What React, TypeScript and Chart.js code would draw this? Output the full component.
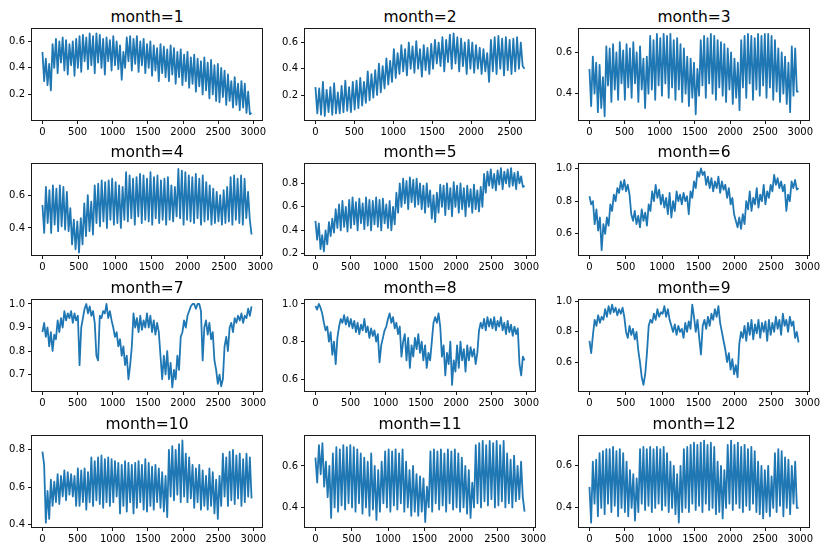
import React, { useEffect, useRef } from "react";
import { Chart, registerables } from "chart.js";

Chart.register(...registerables);

// ---- data (alternating lows / highs) ----
const month1 = [
  0.52, 0.30, 0.47, 0.27, 0.43, 0.23, 0.58, 0.40, 0.62, 0.36, 0.60, 0.44, 0.63, 0.38, 0.61, 0.35, 0.58, 0.42, 0.60, 0.34, 0.62,
  0.40, 0.64, 0.37, 0.65, 0.45, 0.63, 0.39, 0.66, 0.42, 0.64, 0.36, 0.66, 0.44, 0.65, 0.40, 0.62, 0.35, 0.63, 0.45, 0.61, 0.38,
  0.64, 0.42, 0.60, 0.39, 0.57, 0.31, 0.52, 0.40, 0.63, 0.45, 0.64, 0.38, 0.62, 0.43, 0.64, 0.37, 0.60, 0.42, 0.62, 0.36, 0.58,
  0.40, 0.60, 0.34, 0.57, 0.38, 0.55, 0.30, 0.58, 0.36, 0.56, 0.33, 0.54, 0.30, 0.57, 0.35, 0.55, 0.28, 0.52, 0.33, 0.54, 0.27,
  0.50, 0.30, 0.52, 0.25, 0.48, 0.28, 0.50, 0.22, 0.47, 0.26, 0.45, 0.20, 0.48, 0.23, 0.44, 0.17, 0.46, 0.20, 0.42, 0.15, 0.43,
  0.14, 0.40, 0.18, 0.38, 0.12, 0.35, 0.15, 0.30, 0.10, 0.33, 0.12, 0.28, 0.08, 0.30, 0.10, 0.28, 0.06, 0.22, 0.05, 0.06,
];
const month2 = [
  0.26, 0.06, 0.25, 0.05, 0.30, 0.04, 0.24, 0.07, 0.26, 0.05, 0.29, 0.06, 0.22, 0.06, 0.27, 0.07, 0.31, 0.08, 0.26, 0.07, 0.30,
  0.09, 0.31, 0.10, 0.33, 0.12, 0.30, 0.14, 0.38, 0.16, 0.36, 0.18, 0.39, 0.20, 0.44, 0.22, 0.42, 0.25, 0.48, 0.28, 0.46, 0.30,
  0.55, 0.33, 0.52, 0.36, 0.58, 0.38, 0.55, 0.35, 0.60, 0.40, 0.57, 0.37, 0.61, 0.40, 0.55, 0.34, 0.58, 0.39, 0.56, 0.36, 0.59,
  0.40, 0.62, 0.44, 0.60, 0.42, 0.64, 0.38, 0.62, 0.45, 0.66, 0.40, 0.67, 0.44, 0.64, 0.38, 0.63, 0.42, 0.60, 0.36, 0.62, 0.40,
  0.60, 0.37, 0.58, 0.40, 0.56, 0.36, 0.55, 0.38, 0.52, 0.30, 0.62, 0.38, 0.64, 0.36, 0.65, 0.40, 0.63, 0.35, 0.64, 0.39, 0.62,
  0.36, 0.63, 0.38, 0.64, 0.40, 0.60, 0.42, 0.40,
];
const month3 = [
  0.52, 0.34, 0.58, 0.40, 0.55, 0.31, 0.54, 0.33, 0.48, 0.29, 0.63, 0.44, 0.62, 0.36, 0.64, 0.42, 0.60, 0.37, 0.65, 0.45, 0.61,
  0.37, 0.64, 0.43, 0.62, 0.38, 0.65, 0.45, 0.60, 0.36, 0.63, 0.42, 0.57, 0.33, 0.58, 0.40, 0.68, 0.42, 0.66, 0.37, 0.69, 0.44,
  0.67, 0.39, 0.69, 0.45, 0.68, 0.38, 0.69, 0.43, 0.66, 0.37, 0.67, 0.42, 0.64, 0.36, 0.62, 0.40, 0.58, 0.34, 0.57, 0.38, 0.55,
  0.30, 0.52, 0.39, 0.66, 0.44, 0.68, 0.38, 0.67, 0.45, 0.69, 0.40, 0.68, 0.37, 0.66, 0.43, 0.65, 0.39, 0.64, 0.36, 0.62, 0.42,
  0.60, 0.35, 0.57, 0.38, 0.55, 0.32, 0.66, 0.43, 0.68, 0.38, 0.69, 0.45, 0.68, 0.37, 0.67, 0.42, 0.69, 0.39, 0.68, 0.44, 0.69,
  0.38, 0.69, 0.43, 0.68, 0.37, 0.66, 0.41, 0.62, 0.36, 0.60, 0.40, 0.58, 0.35, 0.55, 0.31, 0.63, 0.39, 0.62, 0.41, 0.41,
];
const month4 = [
  0.54, 0.37, 0.65, 0.43, 0.63, 0.37, 0.66, 0.42, 0.64, 0.38, 0.66, 0.41, 0.65, 0.39, 0.62, 0.38, 0.52, 0.30, 0.45, 0.27, 0.44,
  0.25, 0.46, 0.30, 0.55, 0.35, 0.60, 0.38, 0.56, 0.36, 0.66, 0.43, 0.67, 0.41, 0.69, 0.44, 0.68, 0.40, 0.69, 0.45, 0.70, 0.42,
  0.68, 0.43, 0.66, 0.40, 0.65, 0.45, 0.74, 0.44, 0.72, 0.46, 0.70, 0.42, 0.71, 0.47, 0.73, 0.43, 0.72, 0.45, 0.70, 0.44, 0.74,
  0.42, 0.71, 0.46, 0.72, 0.43, 0.69, 0.45, 0.70, 0.42, 0.71, 0.45, 0.66, 0.44, 0.65, 0.47, 0.76, 0.46, 0.75, 0.42, 0.74, 0.45,
  0.72, 0.44, 0.71, 0.43, 0.73, 0.46, 0.70, 0.42, 0.72, 0.44, 0.68, 0.45, 0.66, 0.42, 0.64, 0.43, 0.62, 0.44, 0.60, 0.42, 0.63,
  0.43, 0.65, 0.44, 0.71, 0.42, 0.72, 0.45, 0.70, 0.43, 0.72, 0.42, 0.70, 0.46, 0.62, 0.45, 0.36,
];
const month5 = [
  0.48, 0.32, 0.46, 0.24, 0.36, 0.22, 0.40, 0.28, 0.47, 0.35, 0.50, 0.38, 0.58, 0.42, 0.62, 0.40, 0.65, 0.43, 0.60, 0.39, 0.66,
  0.42, 0.68, 0.45, 0.64, 0.40, 0.67, 0.46, 0.63, 0.41, 0.68, 0.44, 0.66, 0.40, 0.65, 0.45, 0.68, 0.43, 0.66, 0.40, 0.67, 0.46,
  0.62, 0.42, 0.65, 0.40, 0.60, 0.45, 0.72, 0.55, 0.80, 0.60, 0.84, 0.63, 0.82, 0.58, 0.85, 0.64, 0.83, 0.60, 0.84, 0.62, 0.80,
  0.58, 0.78, 0.55, 0.80, 0.60, 0.74, 0.50, 0.70, 0.47, 0.72, 0.55, 0.79, 0.60, 0.78, 0.53, 0.80, 0.58, 0.76, 0.52, 0.81, 0.60,
  0.78, 0.55, 0.80, 0.58, 0.76, 0.52, 0.78, 0.60, 0.75, 0.55, 0.79, 0.58, 0.74, 0.56, 0.77, 0.60, 0.88, 0.72, 0.90, 0.78, 0.92,
  0.76, 0.88, 0.74, 0.91, 0.79, 0.93, 0.75, 0.90, 0.80, 0.92, 0.77, 0.93, 0.78, 0.89, 0.75, 0.90, 0.80, 0.86, 0.77, 0.78,
];
const month6 = [
  0.83, 0.78, 0.80, 0.66, 0.75, 0.62, 0.70, 0.50, 0.66, 0.60, 0.70, 0.65, 0.78, 0.74, 0.84, 0.80, 0.88, 0.85, 0.92, 0.87, 0.93,
  0.86, 0.90, 0.84, 0.72, 0.68, 0.74, 0.66, 0.71, 0.64, 0.75, 0.68, 0.73, 0.65, 0.78, 0.74, 0.86, 0.80, 0.90, 0.82, 0.87, 0.78,
  0.84, 0.76, 0.82, 0.72, 0.85, 0.70, 0.80, 0.74, 0.86, 0.80, 0.84, 0.78, 0.85, 0.80, 0.83, 0.72, 0.86, 0.82, 0.92, 0.88, 0.98,
  0.95, 1.00, 0.96, 0.98, 0.90, 0.95, 0.88, 0.94, 0.86, 0.92, 0.88, 0.95, 0.85, 0.92, 0.87, 0.90, 0.82, 0.88, 0.78, 0.82, 0.72,
  0.68, 0.64, 0.70, 0.63, 0.72, 0.66, 0.80, 0.75, 0.86, 0.74, 0.82, 0.78, 0.88, 0.76, 0.84, 0.80, 0.90, 0.78, 0.86, 0.82, 0.90,
  0.86, 0.96, 0.90, 0.94, 0.88, 0.92, 0.86, 0.90, 0.74, 0.84, 0.80, 0.92, 0.88, 0.93, 0.87, 0.88,
];
const month7 = [
  0.88, 0.92, 0.86, 0.90, 0.82, 0.88, 0.80, 0.87, 0.85, 0.93, 0.88, 0.94, 0.90, 0.97, 0.93, 0.96, 0.94, 0.97, 0.92, 0.96, 0.93,
  0.95, 0.74, 0.90, 0.94, 0.98, 1.00, 0.96, 0.99, 0.95, 0.97, 0.92, 0.78, 0.76, 0.95, 0.94, 0.97, 0.96, 1.00, 0.94, 0.97, 0.93,
  0.90, 0.86, 0.88, 0.82, 0.85, 0.78, 0.82, 0.74, 0.78, 0.68, 0.74, 0.82, 0.96, 0.90, 0.94, 0.88, 0.95, 0.89, 0.93, 0.90, 0.96,
  0.90, 0.95, 0.88, 0.93, 0.87, 0.92, 0.88, 0.78, 0.68, 0.78, 0.70, 0.80, 0.68, 0.75, 0.645, 0.72, 0.68, 0.78, 0.72, 0.86, 0.88,
  0.93, 0.90, 0.95, 0.97, 0.99, 1.00, 1.00, 0.98, 1.00, 1.00, 0.97, 0.76, 0.90, 0.93, 0.87, 0.92, 0.85, 0.88, 0.76, 0.72, 0.66,
  0.70, 0.65, 0.68, 0.82, 0.86, 0.80, 0.90, 0.92, 0.88, 0.94, 0.92, 0.95, 0.93, 0.96, 0.92, 0.95, 0.94, 0.98, 0.95, 0.99,
];
const month8 = [
  0.99, 0.97, 1.00, 0.98, 0.95, 0.90, 0.86, 0.88, 0.80, 0.85, 0.73, 0.80, 0.68, 0.82, 0.88, 0.92, 0.90, 0.94, 0.89, 0.93, 0.88,
  0.92, 0.87, 0.91, 0.85, 0.90, 0.84, 0.89, 0.86, 0.92, 0.85, 0.88, 0.82, 0.87, 0.83, 0.86, 0.80, 0.84, 0.69, 0.78, 0.82, 0.86,
  0.88, 0.92, 0.95, 0.90, 0.93, 0.87, 0.90, 0.84, 0.88, 0.72, 0.80, 0.84, 0.70, 0.82, 0.66, 0.78, 0.72, 0.82, 0.76, 0.84, 0.74,
  0.80, 0.70, 0.78, 0.66, 0.74, 0.70, 0.80, 0.90, 0.93, 0.90, 0.95, 0.88, 0.72, 0.78, 0.62, 0.74, 0.68, 0.80, 0.57, 0.70, 0.64,
  0.78, 0.66, 0.80, 0.70, 0.76, 0.64, 0.78, 0.70, 0.77, 0.72, 0.76, 0.68, 0.74, 0.86, 0.90, 0.87, 0.92, 0.86, 0.93, 0.88, 0.92,
  0.87, 0.93, 0.86, 0.91, 0.88, 0.93, 0.86, 0.90, 0.84, 0.91, 0.85, 0.89, 0.83, 0.88, 0.84, 0.87, 0.68, 0.62, 0.72, 0.70,
];
const month9 = [
  0.74, 0.66, 0.78, 0.88, 0.84, 0.91, 0.86, 0.90, 0.88, 0.95, 0.90, 0.97, 0.92, 0.98, 0.93, 0.96, 0.91, 0.95, 0.92, 0.96, 0.90,
  0.80, 0.76, 0.84, 0.78, 0.82, 0.75, 0.80, 0.68, 0.60, 0.50, 0.45, 0.52, 0.66, 0.84, 0.88, 0.86, 0.92, 0.88, 0.95, 0.90, 0.93,
  0.92, 0.97, 0.90, 0.95, 0.88, 0.84, 0.80, 0.85, 0.78, 0.84, 0.80, 0.82, 0.76, 0.86, 0.80, 0.87, 0.82, 0.98, 0.90, 0.80, 0.88,
  0.76, 0.65, 0.84, 0.88, 0.82, 0.90, 0.84, 0.92, 0.88, 0.95, 0.90, 0.97, 0.86, 0.80, 0.74, 0.68, 0.60, 0.66, 0.55, 0.62, 0.52,
  0.58, 0.50, 0.72, 0.80, 0.76, 0.84, 0.74, 0.86, 0.78, 0.88, 0.75, 0.85, 0.79, 0.88, 0.76, 0.86, 0.80, 0.87, 0.74, 0.88, 0.78,
  0.86, 0.80, 0.90, 0.82, 0.88, 0.78, 0.92, 0.84, 0.88, 0.80, 0.90, 0.84, 0.87, 0.76, 0.80, 0.73,
];
const month10 = [
  0.79, 0.72, 0.41, 0.58, 0.43, 0.64, 0.50, 0.63, 0.52, 0.67, 0.51, 0.66, 0.55, 0.69, 0.53, 0.68, 0.56, 0.67, 0.55, 0.66, 0.50,
  0.70, 0.50, 0.69, 0.52, 0.70, 0.48, 0.68, 0.52, 0.76, 0.50, 0.74, 0.53, 0.76, 0.51, 0.77, 0.49, 0.75, 0.52, 0.76, 0.50, 0.75,
  0.52, 0.74, 0.55, 0.73, 0.46, 0.72, 0.50, 0.74, 0.47, 0.73, 0.52, 0.72, 0.46, 0.73, 0.49, 0.74, 0.52, 0.72, 0.48, 0.75, 0.47,
  0.73, 0.50, 0.71, 0.48, 0.72, 0.52, 0.70, 0.49, 0.68, 0.47, 0.66, 0.44, 0.80, 0.55, 0.82, 0.53, 0.80, 0.56, 0.83, 0.52, 0.85,
  0.55, 0.78, 0.52, 0.76, 0.54, 0.72, 0.49, 0.70, 0.52, 0.72, 0.48, 0.69, 0.50, 0.66, 0.48, 0.70, 0.50, 0.68, 0.46, 0.64, 0.43,
  0.66, 0.50, 0.78, 0.55, 0.76, 0.50, 0.79, 0.53, 0.80, 0.51, 0.77, 0.54, 0.78, 0.50, 0.75, 0.52, 0.78, 0.55, 0.76, 0.54,
];
const month11 = [
  0.64, 0.52, 0.70, 0.56, 0.71, 0.50, 0.62, 0.45, 0.60, 0.35, 0.66, 0.40, 0.69, 0.38, 0.68, 0.41, 0.70, 0.39, 0.69, 0.42, 0.70,
  0.40, 0.69, 0.38, 0.68, 0.42, 0.66, 0.37, 0.64, 0.40, 0.62, 0.36, 0.66, 0.39, 0.60, 0.34, 0.58, 0.38, 0.62, 0.42, 0.67, 0.40,
  0.68, 0.38, 0.67, 0.41, 0.68, 0.39, 0.66, 0.42, 0.68, 0.38, 0.62, 0.40, 0.58, 0.36, 0.60, 0.38, 0.56, 0.36, 0.55, 0.38, 0.54,
  0.33, 0.50, 0.40, 0.67, 0.38, 0.68, 0.42, 0.67, 0.39, 0.68, 0.41, 0.66, 0.38, 0.68, 0.42, 0.67, 0.39, 0.68, 0.40, 0.66, 0.38,
  0.64, 0.40, 0.60, 0.37, 0.58, 0.35, 0.52, 0.40, 0.70, 0.42, 0.71, 0.40, 0.72, 0.43, 0.70, 0.41, 0.72, 0.44, 0.71, 0.40, 0.72,
  0.41, 0.70, 0.43, 0.72, 0.40, 0.66, 0.42, 0.63, 0.40, 0.65, 0.43, 0.60, 0.44, 0.62, 0.45, 0.38,
];
const month12 = [
  0.50, 0.33, 0.62, 0.42, 0.63, 0.36, 0.66, 0.40, 0.67, 0.37, 0.68, 0.42, 0.68, 0.38, 0.69, 0.41, 0.67, 0.36, 0.68, 0.40, 0.66,
  0.38, 0.62, 0.36, 0.58, 0.40, 0.56, 0.34, 0.54, 0.38, 0.68, 0.42, 0.69, 0.39, 0.68, 0.41, 0.69, 0.38, 0.68, 0.40, 0.69, 0.42,
  0.68, 0.39, 0.69, 0.41, 0.66, 0.38, 0.62, 0.40, 0.60, 0.37, 0.56, 0.33, 0.60, 0.38, 0.68, 0.40, 0.69, 0.38, 0.70, 0.42, 0.71,
  0.39, 0.70, 0.41, 0.71, 0.38, 0.72, 0.42, 0.70, 0.39, 0.71, 0.40, 0.69, 0.37, 0.62, 0.38, 0.60, 0.35, 0.58, 0.40, 0.70, 0.42,
  0.72, 0.39, 0.70, 0.42, 0.71, 0.40, 0.69, 0.38, 0.70, 0.41, 0.68, 0.39, 0.69, 0.42, 0.67, 0.38, 0.62, 0.37, 0.60, 0.35, 0.58,
  0.38, 0.60, 0.36, 0.55, 0.40, 0.66, 0.38, 0.68, 0.41, 0.67, 0.36, 0.64, 0.40, 0.63, 0.37, 0.60, 0.42, 0.62, 0.40, 0.40,
];

const titles = [
  "month=1", "month=2", "month=3", "month=4", "month=5", "month=6",
  "month=7", "month=8", "month=9", "month=10", "month=11", "month=12",
];
const seriesList = [month1, month2, month3, month4, month5, month6, month7, month8, month9, month10, month11, month12];
// number of samples in each month (15-minute readings)
const sampleCounts = [2976, 2688, 2976, 2880, 2976, 2880, 2976, 2976, 2880, 2976, 2880, 2976];
const yMins = [0.006, 0.01, 0.272, 0.235, 0.19, 0.471, 0.63, 0.5375, 0.409, 0.387, 0.306, 0.309];
const yMaxs = [0.694, 0.703, 0.714, 0.79, 0.965, 1.027, 1.017, 1.021, 1.011, 0.874, 0.744, 0.742];
const yTicksList = [
  [0.2, 0.4, 0.6],
  [0.2, 0.4, 0.6],
  [0.4, 0.6],
  [0.4, 0.6],
  [0.2, 0.4, 0.6, 0.8],
  [0.6, 0.8, 1.0],
  [0.7, 0.8, 0.9, 1.0],
  [0.6, 0.8, 1.0],
  [0.6, 0.8, 1.0],
  [0.4, 0.6, 0.8],
  [0.4, 0.6],
  [0.4, 0.6],
];
const xTicksFull = [0, 500, 1000, 1500, 2000, 2500, 3000];
const xTicksShort = [0, 500, 1000, 1500, 2000, 2500];

// ---- layout ----
const colLefts = [32, 305, 579];
const rowTops = [29, 164, 300, 436];
const AREA_W = 230;
const AREA_H = 91;
const PAD_L = 50;
const PAD_T = 10;
const PAD_R = 30;
const PAD_B = 30;
const FONT = "'DejaVu Sans', 'Liberation Sans', sans-serif";

const framePlugin = {
  id: "frame",
  afterDraw(chart: any) {
    const { ctx, chartArea: a } = chart;
    ctx.save();
    ctx.strokeStyle = "#1a1a1a";
    ctx.lineWidth = 1;
    ctx.strokeRect(a.left - 0.5, a.top - 0.5, a.right - a.left + 1, a.bottom - a.top + 1);
    ctx.restore();
  },
};

function Panel({ idx }: { idx: number }) {
  const ref = useRef<HTMLCanvasElement | null>(null);
  const col = idx % 3;
  const row = Math.floor(idx / 3);
  const left = colLefts[col];
  const top = rowTops[row];
  const cw = PAD_L + AREA_W + PAD_R;
  const ch = PAD_T + AREA_H + PAD_B;

  useEffect(() => {
    if (!ref.current) return;
    const values = seriesList[idx];
    const last = sampleCounts[idx] - 1;
    const data = values.map((v, i) => ({ x: (i * last) / (values.length - 1), y: v }));
    const margin = last * 0.05;
    const xTicks = sampleCounts[idx] < 2700 ? xTicksShort : xTicksFull;
    const yTicks = yTicksList[idx];
    const tickFont = { family: FONT, size: 10 };
    const gridOpts = {
      display: true,
      drawOnChartArea: false,
      drawTicks: true,
      tickLength: 4,
      tickWidth: 1,
      tickColor: "#1a1a1a",
    };
    const chart = new Chart(ref.current, {
      type: "line",
      data: {
        datasets: [
          {
            data,
            borderColor: "#1f77b4",
            borderWidth: 1.8,
            pointRadius: 0,
            tension: 0,
            fill: false,
            borderJoinStyle: "round",
          },
        ],
      },
      options: {
        animation: false,
        responsive: false,
        maintainAspectRatio: false,
        events: [],
        layout: { padding: { left: 0, top: PAD_T, right: PAD_R, bottom: 0 } },
        plugins: {
          legend: { display: false },
          tooltip: { enabled: false },
          title: { display: false },
        },
        scales: {
          x: {
            type: "linear",
            min: -margin,
            max: last + margin,
            afterBuildTicks: (s: any) => {
              s.ticks = xTicks.map((v) => ({ value: v }));
            },
            afterFit: (s: any) => {
              s.height = PAD_B;
            },
            grid: gridOpts,
            border: { display: false },
            ticks: {
              autoSkip: false,
              maxRotation: 0,
              padding: 2,
              color: "#000",
              font: tickFont,
              callback: (v: any) => String(v),
            },
          },
          y: {
            type: "linear",
            min: yMins[idx],
            max: yMaxs[idx],
            afterBuildTicks: (s: any) => {
              s.ticks = yTicks.map((v) => ({ value: v }));
            },
            afterFit: (s: any) => {
              s.width = PAD_L;
            },
            grid: gridOpts,
            border: { display: false },
            ticks: {
              autoSkip: false,
              padding: 3,
              color: "#000",
              font: tickFont,
              callback: (v: any) => Number(v).toFixed(1),
            },
          },
        },
      } as any,
      plugins: [framePlugin],
    });
    return () => chart.destroy();
  }, [idx]);

  return (
    <>
      <div
        style={{
          position: "absolute",
          left: left,
          top: top - 18.8,
          width: AREA_W,
          textAlign: "center",
          fontFamily: FONT,
          fontSize: 15.5,
          lineHeight: 1,
          color: "#000",
          whiteSpace: "nowrap",
        }}
      >
        {titles[idx]}
      </div>
      <canvas
        ref={ref}
        width={cw}
        height={ch}
        style={{ position: "absolute", left: left - PAD_L, top: top - PAD_T, width: cw, height: ch }}
      />
    </>
  );
}

export default function App() {
  return (
    <div
      style={{
        position: "absolute",
        left: 0,
        top: 0,
        width: 830,
        height: 554,
        background: "#fff",
        overflow: "hidden",
      }}
    >
      {titles.map((_, i) => (
        <Panel key={i} idx={i} />
      ))}
    </div>
  );
}
